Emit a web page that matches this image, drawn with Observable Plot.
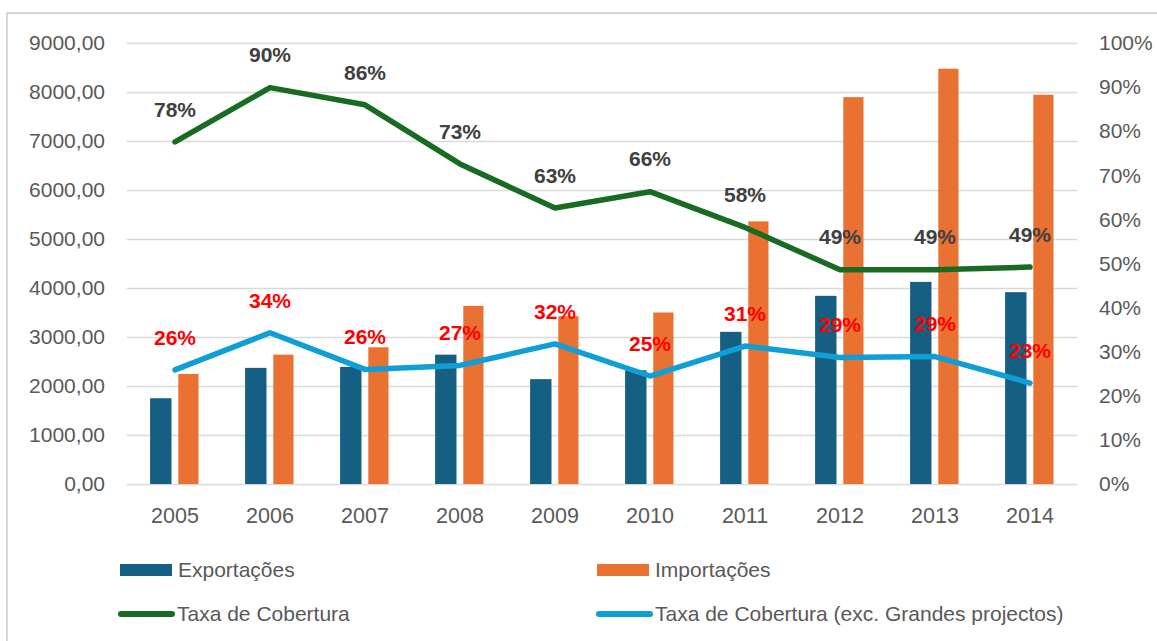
<!DOCTYPE html>
<html>
<head>
<meta charset="utf-8">
<script src="https://cdn.jsdelivr.net/npm/d3@7"></script>
<script src="https://cdn.jsdelivr.net/npm/@observablehq/plot@0.6"></script>
<style>
  html, body { margin: 0; padding: 0; background: #fff; width: 1157px; height: 641px; overflow: hidden; }
  body { position: relative; font-family: "Liberation Sans", Arial, sans-serif; }
  #frame { position: absolute; left: 6px; top: 12px; width: 1300px; height: 800px; border: 2px solid #d9d9d9; box-sizing: border-box; }
  #chart { position: absolute; left: 0; top: 0; }
  .leg { position: absolute; font-size: 21px; color: #595959; white-space: nowrap; line-height: 21px; }
  .sw { position: absolute; }
</style>
</head>
<body>
<div id="frame"></div>
<div id="chart"></div>
<div id="legend"></div>
<script>
const years = ["2005","2006","2007","2008","2009","2010","2011","2012","2013","2014"];
const exportacoes = [1750, 2370, 2390, 2640, 2140, 2320, 3105, 3840, 4125, 3915];
const importacoes = [2245, 2640, 2790, 3635, 3425, 3500, 5360, 7895, 8475, 7945];
const taxaCobertura = [77.7, 90.0, 86.1, 72.7, 62.7, 66.4, 58.3, 48.7, 48.7, 49.3];
const taxaExcGP = [26.0, 34.4, 26.1, 27.0, 31.9, 24.6, 31.4, 28.8, 29.0, 23.0];
const leftTicks = [0, 1000, 2000, 3000, 4000, 5000, 6000, 7000, 8000, 9000];
const rightTicks = [0, 10, 20, 30, 40, 50, 60, 70, 80, 90, 100];

const COLORS = {exp: "#156082", imp: "#E97132", green: "#196B24", blue: "#0F9ED5"};
const YMAX = 9000;
const pctToY = p => p / 100 * YMAX;

const bars = years.map((y, i) => ({year: y, exp: exportacoes[i], imp: importacoes[i]}));
const green = years.map((y, i) => ({year: y, v: taxaCobertura[i]}));
const blue = years.map((y, i) => ({year: y, v: taxaExcGP[i]}));

const fmtLeft = d => d3.format(".2f")(d).replace(".", ",");

const chart = Plot.plot({
  width: 1157,
  height: 545,
  marginTop: 43,
  marginBottom: 61,
  marginLeft: 126.5,
  marginRight: 79.5,
  style: {fontFamily: "'Liberation Sans', Arial, sans-serif", fontSize: "21px", color: "#595959", background: "transparent"},
  x: {type: "band", domain: years, padding: 0},
  y: {domain: [0, YMAX]},
  marks: [
    Plot.ruleY(leftTicks, {stroke: "#d9d9d9", strokeWidth: 1.5}),
    Plot.axisY({ticks: leftTicks, tickFormat: fmtLeft, tickSize: 0, tickPadding: 22, fontSize: 21, fill: "#595959", label: null}),
    Plot.axisY({anchor: "right", ticks: rightTicks.map(pctToY), tickFormat: d => Math.round(d / YMAX * 100) + "%", tickSize: 0, tickPadding: 21, fontSize: 21, fill: "#595959", label: null}),
    Plot.axisX({tickSize: 0, tickPadding: 23, fontSize: 21.5, fill: "#595959", label: null}),
    Plot.barY(bars, {x: "year", y: "exp", fill: COLORS.exp, insetLeft: 23.1, insetRight: 50.5}),
    Plot.barY(bars, {x: "year", y: "imp", fill: COLORS.imp, insetLeft: 51.3, insetRight: 23.5}),
    Plot.lineY(green, {x: "year", y: d => pctToY(d.v), stroke: COLORS.green, strokeWidth: 5.5, strokeLinejoin: "round", strokeLinecap: "round"}),
    Plot.lineY(blue, {x: "year", y: d => pctToY(d.v), stroke: COLORS.blue, strokeWidth: 5.5, strokeLinejoin: "round", strokeLinecap: "round"}),
    Plot.text(green, {x: "year", y: d => pctToY(d.v), text: d => Math.round(d.v) + "%", dy: -32, fontSize: 21, fontWeight: "bold", fill: "#404040"}),
    Plot.text(blue, {x: "year", y: d => pctToY(d.v), text: d => Math.round(d.v) + "%", dy: -32, fontSize: 21, fontWeight: "bold", fill: "#FF0000"})
  ]
});
document.getElementById("chart").appendChild(chart);

// Legend
const legendItems = [
  {label: "Exportações", color: COLORS.exp, type: "bar", x: 120, y: 570},
  {label: "Importações", color: COLORS.imp, type: "bar", x: 597, y: 570},
  {label: "Taxa de Cobertura", color: COLORS.green, type: "line", x: 118, y: 614},
  {label: "Taxa de Cobertura (exc. Grandes projectos)", color: COLORS.blue, type: "line", x: 596, y: 614}
];
const legend = document.getElementById("legend");
for (const it of legendItems) {
  const sw = document.createElement("div");
  sw.className = "sw";
  if (it.type === "bar") {
    Object.assign(sw.style, {left: it.x + "px", top: (it.y - 6) + "px", width: "52px", height: "12px", background: it.color});
  } else {
    Object.assign(sw.style, {left: it.x + "px", top: (it.y - 3) + "px", width: "57px", height: "6px", background: it.color, borderRadius: "3px"});
  }
  legend.appendChild(sw);
  const t = document.createElement("div");
  t.className = "leg";
  t.textContent = it.label;
  Object.assign(t.style, {left: (it.x + (it.type === "bar" ? 58 : 59)) + "px", top: (it.y - 11) + "px"});
  legend.appendChild(t);
}
</script>
</body>
</html>
